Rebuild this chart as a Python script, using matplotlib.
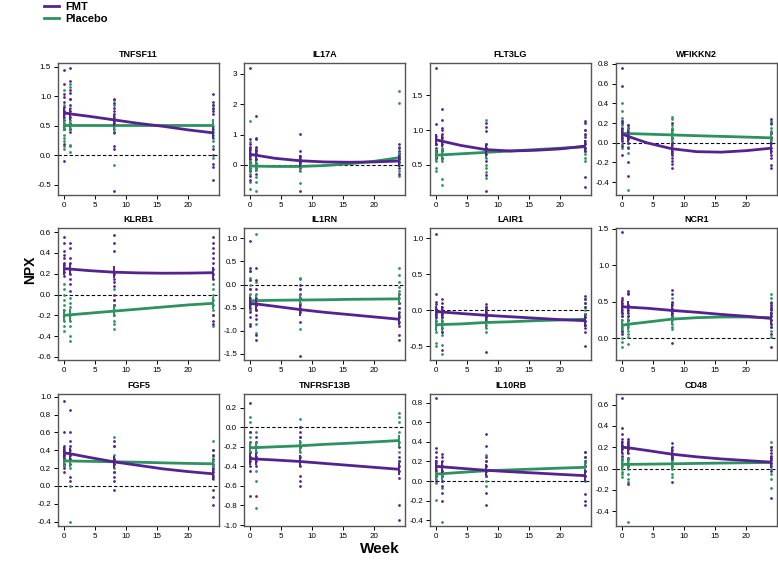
import numpy as np
import matplotlib
import matplotlib.pyplot as plt

matplotlib.use('agg')
plt.rcParams['font.family'] = ['Liberation Sans', 'DejaVu Sans']

# sampling weeks and weeks at which the fitted curves were read
weeks = [0, 1, 8, 24]
fit_weeks = [0, 1, 4, 8, 12, 16, 20, 24]

proteins = ['TNFSF11', 'IL17A', 'FLT3LG', 'WFIKKN2',
            'KLRB1', 'IL1RN', 'LAIR1', 'NCR1',
            'FGF5', 'TNFRSF13B', 'IL10RB', 'CD48']

# NPX values per week (0, 1, 8, 24)
tnfsf11_fmt = [[1.44, 1.2, 1.03, 0.98, 0.9, 0.82, 0.75, 0.7, 0.6, 0.5, 0.45, 0.2, -0.1],
               [1.48, 1.25, 1.1, 1.05, 0.95, 0.85, 0.75, 0.65, 0.55, 0.45, 0.4],
               [0.95, 0.88, 0.8, 0.75, 0.7, 0.62, 0.55, 0.4, 0.15, 0.1, -0.6],
               [1.03, 0.9, 0.85, 0.8, 0.75, 0.7, 0.1, 0.0, -0.15, -0.2, -0.42]]
tnfsf11_pbo = [[1.1, 0.85, 0.65, 0.55, 0.45, 0.35, 0.3, 0.25, 0.15, 0.1],
               [1.2, 1.15, 0.95, 0.8, 0.6, 0.5, 0.45, 0.18, 0.15, 0.05],
               [0.93, 0.85, 0.65, 0.58, 0.5, 0.45, 0.38, -0.17],
               [0.85, 0.78, 0.5, 0.45, 0.4, 0.35, 0.3, 0.25, 0.15, -0.05]]
il17a_fmt = [[3.2, 0.85, 0.7, 0.6, 0.5, 0.4, 0.3, 0.2, 0.1, -0.1, -0.2, -0.35, -0.5],
             [1.6, 0.9, 0.85, 0.6, 0.5, 0.45, 0.35, 0.2, 0.05, -0.1, -0.3],
             [1.02, 0.45, 0.3, 0.2, 0.1, 0.0, -0.1, -0.85],
             [0.7, 0.55, 0.45, 0.35, 0.25, 0.2, 0.1, -0.1, -0.3]]
il17a_pbo = [[1.45, 0.75, 0.55, 0.2, 0.05, -0.15, -0.3, -0.55, -0.8],
             [0.55, 0.4, 0.2, 0.0, -0.15, -0.4, -0.55, -0.85],
             [0.25, 0.15, 0.05, -0.05, -0.2, -0.6],
             [2.45, 2.05, 0.6, 0.4, 0.3, 0.2, 0.1, 0.0, -0.2, -0.35]]
flt3lg_fmt = [[1.89, 1.08, 0.87, 0.8, 0.75, 0.7, 0.65, 0.62, 0.6],
              [1.3, 1.15, 1.03, 1.0, 0.95, 0.9, 0.85, 0.8, 0.72, 0.65, 0.6],
              [1.1, 1.05, 0.98, 0.8, 0.75, 0.7, 0.65, 0.55, 0.35, 0.13],
              [1.13, 1.1, 1.0, 0.95, 0.9, 0.85, 0.8, 0.75, 0.7, 0.33, 0.18]]
flt3lg_pbo = [[0.92, 0.8, 0.72, 0.68, 0.6, 0.55, 0.45, 0.42],
              [0.88, 0.75, 0.7, 0.6, 0.55, 0.3, 0.22],
              [1.14, 0.8, 0.75, 0.7, 0.6, 0.5, 0.45, 0.4, 0.32],
              [1.0, 0.93, 0.82, 0.75, 0.7, 0.65, 0.6, 0.55]]
wfikkn2_fmt = [[0.76, 0.58, 0.22, 0.2, 0.15, 0.12, 0.1, 0.08, 0.05, 0.02, -0.03, -0.12],
               [0.18, 0.15, 0.12, 0.1, 0.08, 0.06, 0.04, 0.0, -0.05, -0.2, -0.34],
               [0.2, 0.13, 0.05, 0.0, -0.05, -0.08, -0.1, -0.12, -0.15, -0.18, -0.22, -0.26],
               [0.24, 0.2, 0.1, 0.05, 0.0, -0.05, -0.08, -0.12, -0.15, -0.23, -0.26]]
wfikkn2_pbo = [[0.4, 0.32, 0.25, 0.22, 0.18, 0.14, 0.1, 0.06, 0.03, -0.01, -0.05],
               [0.18, 0.15, 0.1, 0.05, 0.0, -0.04, -0.1, -0.48],
               [0.26, 0.24, 0.18, 0.15, 0.1, 0.08, 0.05, 0.02, -0.02],
               [0.22, 0.19, 0.15, 0.12, 0.1, 0.06, 0.03, 0.0]]
klrb1_fmt = [[0.55, 0.5, 0.42, 0.38, 0.35, 0.3, 0.28, 0.25, 0.22, 0.18],
             [0.5, 0.45, 0.35, 0.3, 0.25, 0.2, 0.15, 0.1, 0.03],
             [0.57, 0.5, 0.42, 0.2, 0.15, 0.12, 0.08, 0.0, -0.05, -0.1],
             [0.55, 0.5, 0.45, 0.4, 0.35, 0.3, 0.25, 0.2, 0.15, -0.2, -0.25, -0.28]]
klrb1_pbo = [[0.1, 0.05, 0.0, -0.05, -0.1, -0.15, -0.2, -0.25, -0.3, -0.35],
             [-0.03, -0.08, -0.12, -0.2, -0.25, -0.3, -0.4, -0.45],
             [0.05, -0.05, -0.1, -0.15, -0.2, -0.25, -0.28, -0.33],
             [0.1, 0.05, 0.0, -0.05, -0.1, -0.15, -0.2, -0.3]]
il1rn_fmt = [[0.95, 0.35, 0.3, 0.1, -0.1, -0.3, -0.5, -0.6, -0.7, -0.85, -0.9],
             [0.35, 0.1, -0.1, -0.3, -0.45, -0.55, -0.65, -0.75, -1.1, -1.2],
             [0.0, -0.1, -0.2, -0.3, -0.45, -0.55, -0.6, -0.8, -1.55],
             [-0.2, -0.4, -0.5, -0.6, -0.7, -0.8, -0.9, -1.1, -1.2]]
il1rn_pbo = [[0.3, 0.15, 0.0, -0.1, -0.2, -0.35, -0.45, -0.55],
             [1.1, 0.05, -0.2, -0.35, -0.45, -0.55, -0.85, -1.05],
             [0.15, 0.12, -0.1, -0.3, -0.4, -0.5, -0.95],
             [0.35, 0.2, 0.05, -0.05, -0.15, -0.3, -0.4, -0.5, -0.65]]
lair1_fmt = [[1.05, 0.23, 0.12, 0.08, 0.02, 0.0, -0.05, -0.1, -0.15],
             [0.15, 0.1, 0.05, 0.0, -0.05, -0.1, -0.15, -0.25, -0.3, -0.55],
             [0.08, 0.05, 0.02, -0.02, -0.05, -0.08, -0.1, -0.15, -0.58],
             [0.2, 0.15, 0.1, 0.05, -0.05, -0.1, -0.15, -0.2, -0.25, -0.3, -0.5]]
lair1_pbo = [[0.0, -0.05, -0.1, -0.2, -0.3, -0.45, -0.5],
             [0.0, -0.05, -0.1, -0.2, -0.3, -0.35, -0.48, -0.6],
             [0.05, 0.0, -0.05, -0.12, -0.2, -0.25, -0.3],
             [0.15, 0.1, 0.05, 0.0, -0.05, -0.1, -0.15, -0.2]]
ncr1_fmt = [[1.45, 0.55, 0.52, 0.48, 0.45, 0.42, 0.38, 0.35, 0.3, 0.1, 0.05],
            [0.65, 0.62, 0.6, 0.45, 0.42, 0.38, 0.35, 0.3, 0.25, 0.2],
            [0.66, 0.6, 0.5, 0.45, 0.4, 0.35, 0.3, -0.07],
            [0.48, 0.45, 0.42, 0.4, 0.38, 0.35, 0.3, 0.25, 0.2, 0.15, 0.05, -0.12]]
ncr1_pbo = [[0.35, 0.3, 0.25, 0.2, 0.15, 0.12, 0.08, 0.0, -0.05, -0.12],
            [0.3, 0.25, 0.2, 0.15, 0.1, 0.05, 0.02, -0.08],
            [0.55, 0.48, 0.4, 0.35, 0.3, 0.25, 0.2, 0.15, 0.12],
            [0.6, 0.55, 0.5, 0.4, 0.35, 0.3, 0.25, 0.2, 0.15, 0.1, 0.02]]
fgf5_fmt = [[0.95, 0.6, 0.45, 0.4, 0.35, 0.3, 0.25, 0.2, 0.15],
            [0.85, 0.6, 0.5, 0.45, 0.35, 0.3, 0.25, 0.1, 0.05],
            [0.5, 0.45, 0.3, 0.25, 0.15, 0.1, 0.05, -0.05],
            [0.4, 0.35, 0.3, 0.25, 0.2, 0.15, 0.1, -0.05, -0.13, -0.22]]
fgf5_pbo = [[0.42, 0.35, 0.32, 0.3, 0.28, 0.25, 0.22],
            [0.4, 0.35, 0.3, 0.2, 0.0, -0.4],
            [0.55, 0.45, 0.35, 0.3, 0.28, 0.25, 0.2, 0.15],
            [0.5, 0.4, 0.33, 0.28, 0.22, 0.18, 0.12, 0.08]]
tnfrsf13b_fmt = [[0.25, -0.05, -0.15, -0.2, -0.25, -0.3, -0.35, -0.4, -0.45, -0.7],
                 [-0.1, -0.15, -0.2, -0.25, -0.3, -0.35, -0.4, -0.7],
                 [0.0, -0.05, -0.1, -0.2, -0.3, -0.4, -0.5, -0.55, -0.6],
                 [-0.2, -0.3, -0.35, -0.4, -0.45, -0.52, -0.8, -0.95]]
tnfrsf13b_pbo = [[0.1, 0.05, -0.05, -0.1, -0.2, -0.25, -0.3],
                 [-0.05, -0.2, -0.3, -0.45, -0.55, -0.83],
                 [0.08, 0.0, -0.1, -0.15, -0.2, -0.25],
                 [0.15, 0.1, 0.05, -0.05, -0.15, -0.25, -0.35]]
il10rb_fmt = [[0.85, 0.34, 0.3, 0.25, 0.2, 0.15, 0.1, 0.05, 0.0],
              [0.28, 0.25, 0.2, 0.15, 0.1, 0.05, 0.0, -0.05, -0.12, -0.2],
              [0.48, 0.36, 0.25, 0.2, 0.15, 0.1, 0.05, -0.12, -0.25],
              [0.3, 0.25, 0.2, 0.15, 0.1, 0.05, -0.13, -0.2, -0.25]]
il10rb_pbo = [[0.18, 0.12, 0.08, 0.05, 0.02, -0.02, -0.19],
              [0.15, 0.1, 0.05, 0.0, -0.07, -0.42],
              [0.27, 0.2, 0.15, 0.1, 0.05, 0.0, -0.05],
              [0.3, 0.25, 0.2, 0.18, 0.15, 0.1, 0.05, 0.0]]
cd48_fmt = [[0.66, 0.38, 0.32, 0.28, 0.25, 0.22, 0.2, 0.18, 0.15, 0.12, 0.08],
            [0.28, 0.26, 0.24, 0.22, 0.2, 0.18, 0.15, 0.1, 0.02, -0.15],
            [0.24, 0.2, 0.17, 0.15, 0.12, 0.1, 0.08, 0.05, 0.02, -0.13],
            [0.2, 0.17, 0.15, 0.12, 0.1, 0.08, 0.05, 0.02, -0.02, -0.28]]
cd48_pbo = [[0.1, 0.05, 0.02, 0.0, -0.03, -0.05, -0.08],
            [0.08, 0.05, 0.0, -0.05, -0.1, -0.13, -0.5],
            [0.1, 0.05, 0.0, -0.05, -0.08],
            [0.25, 0.2, 0.1, 0.05, 0.0, -0.05, -0.1, -0.18]]

# fitted curves at fit_weeks
fit_fmt = [[0.72, 0.70, 0.66, 0.60, 0.54, 0.49, 0.43, 0.38],
           [0.35, 0.32, 0.22, 0.14, 0.10, 0.09, 0.10, 0.13],
           [0.86, 0.84, 0.78, 0.72, 0.70, 0.71, 0.73, 0.77],
           [0.09, 0.065, 0.0, -0.06, -0.09, -0.095, -0.08, -0.055],
           [0.25, 0.245, 0.23, 0.215, 0.208, 0.205, 0.206, 0.21],
           [-0.41, -0.42, -0.47, -0.54, -0.60, -0.65, -0.70, -0.75],
           [-0.02, -0.025, -0.045, -0.07, -0.09, -0.11, -0.13, -0.145],
           [0.43, 0.425, 0.41, 0.38, 0.355, 0.325, 0.30, 0.27],
           [0.37, 0.36, 0.32, 0.27, 0.23, 0.19, 0.16, 0.135],
           [-0.32, -0.325, -0.335, -0.35, -0.37, -0.39, -0.41, -0.43],
           [0.15, 0.145, 0.13, 0.11, 0.095, 0.082, 0.068, 0.055],
           [0.20, 0.195, 0.17, 0.135, 0.11, 0.09, 0.075, 0.06]]
fit_pbo = [[0.52, 0.52, 0.52, 0.52, 0.52, 0.52, 0.52, 0.52],
           [-0.03, -0.04, -0.05, -0.05, -0.02, 0.04, 0.12, 0.24],
           [0.64, 0.645, 0.66, 0.68, 0.70, 0.72, 0.74, 0.76],
           [0.095, 0.094, 0.088, 0.08, 0.072, 0.065, 0.058, 0.05],
           [-0.20, -0.195, -0.18, -0.16, -0.14, -0.12, -0.10, -0.085],
           [-0.35, -0.348, -0.34, -0.335, -0.33, -0.32, -0.315, -0.31],
           [-0.20, -0.198, -0.19, -0.17, -0.16, -0.145, -0.135, -0.125],
           [0.175, 0.19, 0.22, 0.26, 0.28, 0.29, 0.29, 0.28],
           [0.28, 0.279, 0.275, 0.27, 0.265, 0.258, 0.252, 0.247],
           [-0.21, -0.208, -0.20, -0.19, -0.175, -0.163, -0.15, -0.136],
           [0.07, 0.075, 0.088, 0.105, 0.114, 0.123, 0.132, 0.14],
           [0.038, 0.039, 0.041, 0.044, 0.048, 0.051, 0.054, 0.057]]

points_fmt = [tnfsf11_fmt, il17a_fmt, flt3lg_fmt, wfikkn2_fmt, klrb1_fmt, il1rn_fmt,
              lair1_fmt, ncr1_fmt, fgf5_fmt, tnfrsf13b_fmt, il10rb_fmt, cd48_fmt]
points_pbo = [tnfsf11_pbo, il17a_pbo, flt3lg_pbo, wfikkn2_pbo, klrb1_pbo, il1rn_pbo,
              lair1_pbo, ncr1_pbo, fgf5_pbo, tnfrsf13b_pbo, il10rb_pbo, cd48_pbo]

ylims = [(-0.67, 1.56), (-0.99, 3.36), (0.07, 1.96), (-0.53, 0.81),
         (-0.63, 0.64), (-1.63, 1.22), (-0.69, 1.14), (-0.30, 1.51),
         (-0.45, 1.03), (-1.01, 0.34), (-0.46, 0.89), (-0.54, 0.70)]
yticks = [[-0.5, 0.0, 0.5, 1.0, 1.5], [0, 1, 2, 3], [0.5, 1.0, 1.5],
          [-0.4, -0.2, 0.0, 0.2, 0.4, 0.6, 0.8],
          [-0.6, -0.4, -0.2, 0.0, 0.2, 0.4, 0.6], [-1.5, -1.0, -0.5, 0.0, 0.5, 1.0],
          [-0.5, 0.0, 0.5, 1.0], [0.0, 0.5, 1.0, 1.5],
          [-0.4, -0.2, 0.0, 0.2, 0.4, 0.6, 0.8, 1.0],
          [-1.0, -0.8, -0.6, -0.4, -0.2, 0.0, 0.2],
          [-0.4, -0.2, 0.0, 0.2, 0.4, 0.6, 0.8], [-0.4, -0.2, 0.0, 0.2, 0.4, 0.6]]
int_ticks = [False, True, False, False, False, False, False, False, False, False, False, False]

purple = '#55238f'
green = '#2e9160'

W, H = 778, 563
fig = plt.figure(figsize=(W / 100, H / 100), dpi=100)

lefts = [58, 244, 430, 616]
tops = [63, 228, 394]
pw, ph = 161, 132

for i, name in enumerate(proteins):
    r, c = divmod(i, 4)
    ax = fig.add_axes([lefts[c] / W, 1 - (tops[r] + ph) / H, pw / W, ph / H])

    ax.axhline(0, color='black', lw=0.8, ls=(0, (3, 2)), zorder=1)

    for wi, wk in enumerate(weeks):
        vp = points_pbo[i][wi]
        vf = points_fmt[i][wi]
        ax.scatter([wk] * len(vp), vp, s=4, color=green, linewidths=0, zorder=2)
        ax.scatter([wk] * len(vf), vf, s=4, color=purple, linewidths=0, zorder=2)

    for fit, col in [(fit_pbo[i], green), (fit_fmt[i], purple)]:
        ax.plot(fit_weeks, fit, color=col, lw=2.0, zorder=3, solid_capstyle='butt')
        sel = [fit[fit_weeks.index(w)] for w in weeks]
        ax.plot(weeks, sel, ls='none', marker='|', markersize=8, mew=1.4,
                color=col, zorder=3)

    ax.set_xlim(-0.96, 24.96)
    ax.set_ylim(*ylims[i])
    ax.set_xticks([0, 5, 10, 15, 20])
    ax.set_yticks(yticks[i])
    if int_ticks[i]:
        ax.set_yticklabels([str(t) for t in yticks[i]])
    else:
        ax.set_yticklabels(['%.1f' % t for t in yticks[i]])
    ax.tick_params(labelsize=5.8, length=3, width=0.7, pad=2, colors='black')
    for s in ax.spines.values():
        s.set_color('#555555')
        s.set_linewidth(1.0)
    ax.set_title(name, fontsize=6.5, fontweight='bold', pad=4)

fig.text(30 / W, 1 - 270 / H, 'NPX', rotation=90, fontsize=10, fontweight='bold',
         ha='center', va='center')
fig.text(380 / W, 1 - 549 / H, 'Week', fontsize=11, fontweight='bold',
         ha='center', va='center')

handles = [plt.Line2D([], [], color=purple, lw=2), plt.Line2D([], [], color=green, lw=2)]
fig.legend(handles, ['FMT', 'Placebo'], loc='upper left', bbox_to_anchor=(36 / W, 1 + 6 / H),
           frameon=False, prop={'weight': 'bold', 'size': 8}, handlelength=1.4,
           handletextpad=0.5, labelspacing=0.2, borderpad=0.2)

fig.savefig('out.png', dpi=100)
